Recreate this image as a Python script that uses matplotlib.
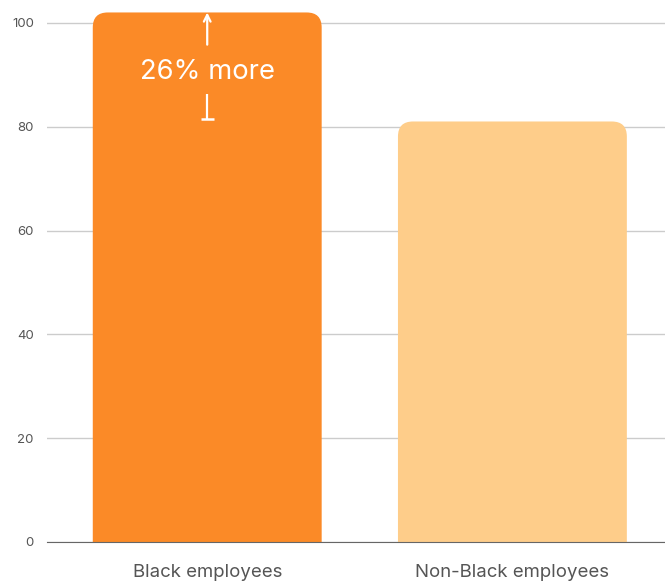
import matplotlib.pyplot as plt
from matplotlib.patches import FancyBboxPatch

categories = ['Black employees', 'Non-Black employees']
values = [102, 81]
bar_colors = ['#FB8A27', '#FECD8A']
yticks = [0, 20, 40, 60, 80, 100]
label = '26% more'

plt.rcParams['font.family'] = ['Inter', 'DejaVu Sans']

fig = plt.figure(figsize=(6.65, 5.82), dpi=100)
ax = fig.add_axes([47 / 665, 40 / 582, 1 - 47 / 665, 1 - 40 / 582])
ax.set_xlim(-0.525, 1.5)
ax.set_ylim(0, 104.4)

# ratio of y data units to x data units per pixel, for round corners
bbox = ax.get_window_extent()
aspect = (104.4 / bbox.height) / (2.025 / bbox.width)
radius_px = 15
rx = radius_px * 2.025 / bbox.width
ry = rx * aspect

width = 0.75
for i, (v, c) in enumerate(zip(values, bar_colors)):
    # extend below zero so the lower corners get clipped away
    box = FancyBboxPatch((i - width / 2, -ry - 1), width, v + ry + 1,
                         boxstyle=f'round,pad=0,rounding_size={rx}',
                         mutation_aspect=aspect, facecolor=c,
                         edgecolor='none', zorder=2)
    ax.add_patch(box)

ax.set_yticks(yticks)
ax.set_xticks(range(len(categories)))
ax.set_xticklabels(categories)
ax.yaxis.grid(True, color='#cccccc', linewidth=1)
ax.set_axisbelow(True)
for s in ['top', 'right', 'left']:
    ax.spines[s].set_visible(False)
ax.spines['bottom'].set_color('#666666')
ax.spines['bottom'].set_zorder(3)
ax.tick_params(axis='y', length=0, pad=9.5, labelsize=9.5, labelcolor='#555555')
ax.tick_params(axis='x', length=0, pad=16, labelsize=13.4, labelcolor='#555555')

# difference marker between the two bar heights
hi, lo = values
mid = 90.6
ax.annotate('', xy=(0, hi), xytext=(0, mid + 5.2),
            arrowprops=dict(arrowstyle='->', color='white', lw=1.6,
                            shrinkA=0, shrinkB=0, mutation_scale=12),
            zorder=4)
ax.plot([0, 0], [lo + 0.3, mid - 4.4], color='white', lw=1.6, zorder=4,
        solid_capstyle='butt')
ax.plot([-0.022, 0.022], [lo + 0.4, lo + 0.4], color='white', lw=1.8,
        zorder=4, solid_capstyle='butt')
ax.text(0, mid, label, color='white', fontsize=19.7, ha='center',
        va='center', zorder=4)

fig.savefig('out.png', dpi=100)
